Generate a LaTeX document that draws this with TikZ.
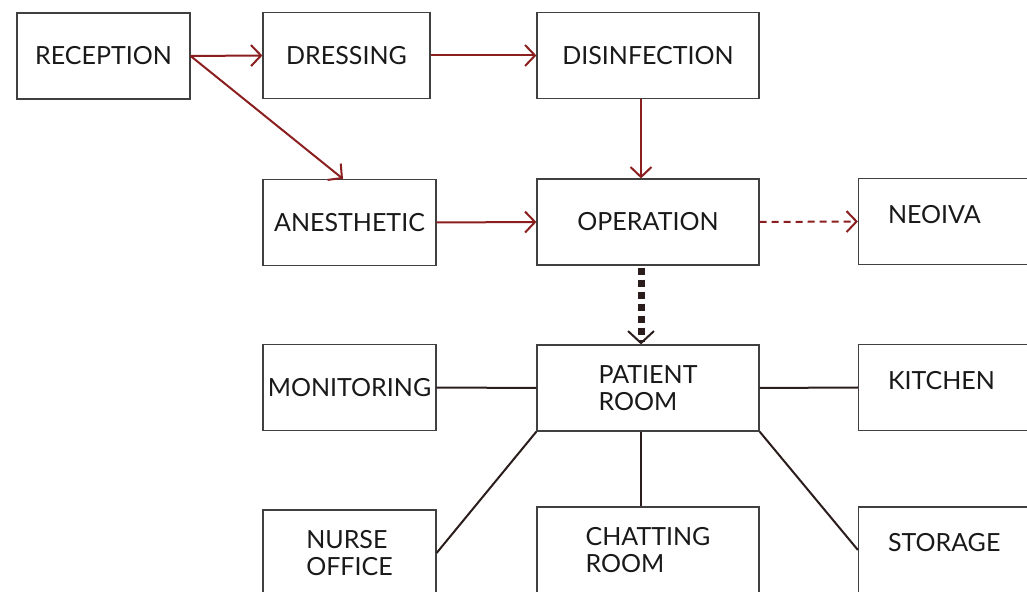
\documentclass[tikz,border=0pt]{standalone}
\usepackage{fontspec}
\setmainfont{Lato}
\usetikzlibrary{arrows.meta}
\definecolor{flowred}{HTML}{8B1F1F}
\definecolor{linkdark}{HTML}{2B1D1C}

\begin{document}
\begin{tikzpicture}[x=0.5pt,y=-0.5pt,
  room/.style={draw=black!75,line width=0.6pt,minimum width=86.5pt,minimum height=43pt,
    inner sep=0pt,align=left,text=black!90,font=\fontsize{12.5}{13.5}\selectfont},
  bigroom/.style={room,minimum width=111pt},
  sideroom/.style={room,text width=57pt,text height=9pt,text depth=7pt},
  flow/.style={flowred,line width=1pt,-{Straight Barb[length=5pt,width=10.5pt]}},
  link/.style={linkdark,line width=1pt}]
\useasboundingbox (0,0) rectangle (1027,592);
\clip (0,0) rectangle (1027,592);

% first row
\node[room] (reception) at (103.5,56) {RECEPTION};
\node[room,minimum width=83.5pt] (dressing) at (346.5,55.5) {DRESSING};
\node[bigroom] (disinfection) at (648,55.5) {DISINFECTION};
% second row
\node[room] (anesthetic) at (349.5,222.5) {ANESTHETIC};
\node[bigroom] (operation) at (648,222) {OPERATION};
\node[sideroom] (neoiva) at (945,221.5) {NEOIVA};
% third row
\node[room] (monitoring) at (349.5,387.5) {MONITORING};
\node[bigroom] (patient) at (648,388) {PATIENT\\ROOM};
\node[sideroom] (kitchen) at (945,387.5) {KITCHEN};
% last row
\node[room] (nurse) at (349.5,553) {NURSE\\OFFICE};
\node[bigroom] (chatting) at (648,550) {CHATTING\\ROOM};
\node[sideroom] (storage) at (945,550) {STORAGE};

% way of the patient
\draw[flow] (reception.east) -- (dressing.west);
\draw[flow] (reception.east) -- ([xshift=-3.25pt]anesthetic.north);
\draw[flow] (dressing.east) -- (disinfection.west);
\draw[flow] ([xshift=-3.5pt]disinfection.south) -- ([xshift=-3.5pt]operation.north);
\draw[flow] (anesthetic.east) -- (operation.west);
\draw[flow,dash pattern=on 3.5pt off 2.5pt] (operation.east) -- (neoiva.west);
\draw[linkdark,line width=3.5pt,dash pattern=on 3.5pt off 2.5pt,
  -{Straight Barb[length=6pt,width=13pt,line width=1pt]}]
  ([xshift=-3.5pt,yshift=-1pt]operation.south) -- ([xshift=-3.5pt]patient.north);

% around the patient room
\draw[link] (monitoring.east) -- (patient.west);
\draw[link] (patient.east) -- (kitchen.west);
\draw[link] (patient.south west) -- (nurse.east);
\draw[link] ([xshift=-3.5pt]patient.south) -- ([xshift=-3.5pt]chatting.north);
\draw[link] (patient.south east) -- (storage.west);
\end{tikzpicture}
\end{document}
